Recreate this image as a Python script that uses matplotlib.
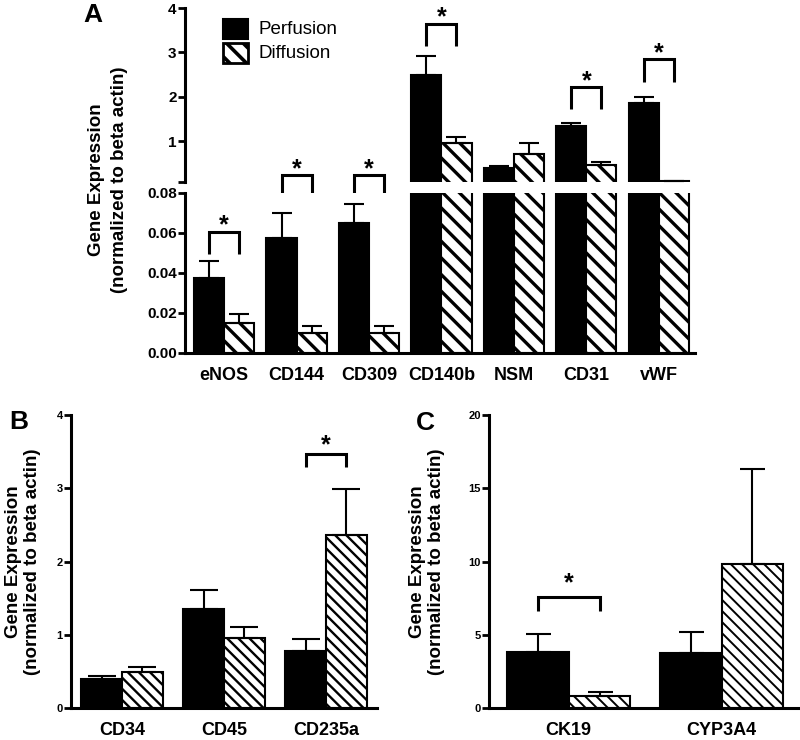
import numpy as np
import matplotlib
matplotlib.use("Agg")
import matplotlib.pyplot as plt
from matplotlib.patches import Rectangle
from matplotlib.transforms import ScaledTranslation

plt.rcParams['font.family'] = ['Liberation Sans', 'DejaVu Sans']
plt.rcParams['font.weight'] = 'bold'
plt.rcParams['hatch.color'] = 'black'
plt.rcParams['hatch.linewidth'] = 2.0

# ---- data ----
a_genes = ['eNOS', 'CD144', 'CD309', 'CD140b', 'NSM', 'CD31', 'vWF']
a_perf = [0.0376, 0.0577, 0.0652, 2.49, 0.39, 1.34, 1.86]
a_perf_err = [0.0084, 0.0123, 0.0093, 0.43, 0.05, 0.07, 0.13]
a_diff = [0.0151, 0.0100, 0.0097, 0.95, 0.70, 0.46, 0.10]
a_diff_err = [0.0044, 0.0036, 0.0039, 0.14, 0.25, 0.07, 0.01]

b_genes = ['CD34', 'CD45', 'CD235a']
b_perf = [0.40, 1.36, 0.78]
b_perf_err = [0.045, 0.25, 0.165]
b_diff = [0.49, 0.955, 2.37]
b_diff_err = [0.07, 0.15, 0.62]

c_genes = ['CK19', 'CYP3A4']
c_perf = [3.86, 3.80]
c_perf_err = [1.20, 1.43]
c_diff = [0.84, 9.84]
c_diff_err = [0.30, 6.50]

# significance brackets: (group, bracket top, leg bottom, star centre)
a_sig_low = [(0, 0.0606, 0.0495, 0.0676)]
a_sig_high = [(1, 0.233, -0.256, 0.54), (2, 0.233, -0.256, 0.54),
              (3, 3.64, 3.14, 3.96), (5, 2.22, 1.72, 2.53), (6, 2.85, 2.33, 3.16)]
b_sig = [(2, 3.47, 3.29, 3.70)]
c_sig = [(0, 7.6, 6.66, 9.1)]

W, H = 800, 740
fig = plt.figure(figsize=(8, 7.4), dpi=100)


def box(left, top, right, bottom):
    return [left / W, 1 - bottom / H, (right - left) / W, (bottom - top) / H]


axA_top = fig.add_axes(box(185, 8, 695, 182))
axA_bot = fig.add_axes(box(185, 193, 695, 352.7))
axB = fig.add_axes(box(71, 415, 377, 708.3))
axC = fig.add_axes(box(489, 415, 798, 708.3))


def draw_bars(ax, perf, perf_err, diff, diff_err, w, hatch, hlw, capsize, floor=None):
    x = np.arange(len(perf))
    perf = np.asarray(perf, float)
    diff = np.asarray(diff, float)
    if floor is not None:
        # bars that end below this axis segment are not drawn here at all
        perf = np.where(perf > floor, perf, np.nan)
        diff = np.where(diff > floor, diff, np.nan)
    ax.bar(x - w / 2, perf, w, color='black', edgecolor='black', linewidth=1.5, zorder=2)
    hb = ax.bar(x + w / 2, diff, w, color='white', edgecolor='black', linewidth=1.5,
                hatch=hatch, zorder=2)
    for p in hb:
        if hasattr(p, 'set_hatch_linewidth'):
            p.set_hatch_linewidth(hlw)
    zero = np.zeros(len(perf))
    for xs, ys, es in [(x - w / 2, perf, perf_err), (x + w / 2, diff, diff_err)]:
        ax.errorbar(xs, ys, yerr=[zero, es], fmt='none', ecolor='black', elinewidth=1.5,
                    capsize=capsize, capthick=1.5, zorder=3)


def style(ax, ysize):
    ax.spines['top'].set_visible(False)
    ax.spines['right'].set_visible(False)
    ax.spines['left'].set_linewidth(2.2)
    ax.spines['bottom'].set_linewidth(2.2)
    ax.tick_params(axis='y', direction='out', length=5, width=2, labelsize=ysize, pad=1)
    ax.tick_params(axis='x', length=0, pad=10, labelsize=13)


def bracket(ax, i, w, top, bottom, star):
    x0, x1 = i - w / 2, i + w / 2
    ax.plot([x0, x0, x1, x1], [bottom, top, top, bottom], color='black', lw=2.2,
            clip_on=False, solid_joinstyle='miter', solid_capstyle='butt')
    off = ScaledTranslation(0, -0.6 * 18 / 72, fig.dpi_scale_trans)
    ax.text(i, star, '*', ha='center', va='baseline', fontsize=18, fontweight='bold',
            transform=ax.transData + off, clip_on=False)


# ---- panel A (broken axis) ----
wa = 0.415
draw_bars(axA_top, a_perf, a_perf_err, a_diff, a_diff_err, wa, '\\\\', 2.4, 7, floor=0.08)
draw_bars(axA_bot, a_perf, a_perf_err, a_diff, a_diff_err, wa, '\\\\', 2.4, 7)
for ax in (axA_top, axA_bot):
    ax.set_xlim(-0.54, 6.5)
    style(ax, 11)

axA_top.set_ylim(0.08, 4)
axA_top.set_yticks([0.08, 1, 2, 3, 4])
axA_top.set_yticklabels(['', '1', '2', '3', '4'])
axA_top.spines['bottom'].set_visible(False)
axA_top.set_xticks([])

axA_bot.set_ylim(0, 0.08)
axA_bot.set_yticks([0, 0.02, 0.04, 0.06, 0.08])
axA_bot.set_yticklabels(['0.00', '0.02', '0.04', '0.06', '0.08'])
axA_bot.set_xticks(np.arange(len(a_genes)))
axA_bot.set_xticklabels(a_genes)

for g, t, b, s in a_sig_low:
    bracket(axA_bot, g, wa, t, b, s)
for g, t, b, s in a_sig_high:
    bracket(axA_top, g, wa, t, b, s)

# legend
fig.patches.append(Rectangle((223 / W, 1 - 39 / H), 25 / W, 20 / H, transform=fig.transFigure,
                             facecolor='black', edgecolor='black', lw=1.5))
lg = Rectangle((223 / W, 1 - 63 / H), 25 / W, 20 / H, transform=fig.transFigure,
               facecolor='white', edgecolor='black', lw=2, hatch='\\\\')
if hasattr(lg, 'set_hatch_linewidth'):
    lg.set_hatch_linewidth(2.6)
fig.patches.append(lg)
fig.text(258 / W, 1 - 29 / H, 'Perfusion', fontsize=13.5, fontweight='normal', va='center')
fig.text(258 / W, 1 - 53 / H, 'Diffusion', fontsize=13.5, fontweight='normal', va='center')

# ---- panel B ----
wb = 0.4
draw_bars(axB, b_perf, b_perf_err, b_diff, b_diff_err, wb, '\\\\\\', 1.7, 10)
axB.set_xlim(-0.5, 2.5)
axB.set_ylim(0, 4)
axB.set_yticks([0, 1, 2, 3, 4])
axB.set_xticks(np.arange(len(b_genes)))
axB.set_xticklabels(b_genes)
style(axB, 8)
for g, t, b, s in b_sig:
    bracket(axB, g, wb, t, b, s)

# ---- panel C ----
wc = 0.405
draw_bars(axC, c_perf, c_perf_err, c_diff, c_diff_err, wc, '\\\\\\', 1.4, 9)
axC.set_xlim(-0.52, 1.5)
axC.set_ylim(0, 20)
axC.set_yticks([0, 5, 10, 15, 20])
axC.set_xticks(np.arange(len(c_genes)))
axC.set_xticklabels(c_genes)
style(axC, 8)
for g, t, b, s in c_sig:
    bracket(axC, g, wc, t, b, s)

# ---- labels ----
ylab = 'Gene Expression\n(normalized to beta actin)'
fig.text(108 / W, 1 - 180 / H, ylab, rotation=90, ha='center', va='center',
         fontsize=13.5, linespacing=1.45)
fig.text(23 / W, 1 - 562 / H, ylab, rotation=90, ha='center', va='center',
         fontsize=13.5, linespacing=1.15)
fig.text(427 / W, 1 - 562 / H, ylab, rotation=90, ha='center', va='center',
         fontsize=13.5, linespacing=1.15)

fig.text(93 / W, 1 - 15 / H, 'A', fontsize=19, ha='center', va='center')
fig.text(19 / W, 1 - 422 / H, 'B', fontsize=19, ha='center', va='center')
fig.text(425 / W, 1 - 423 / H, 'C', fontsize=19, ha='center', va='center')

fig.savefig('out.png', dpi=100)
